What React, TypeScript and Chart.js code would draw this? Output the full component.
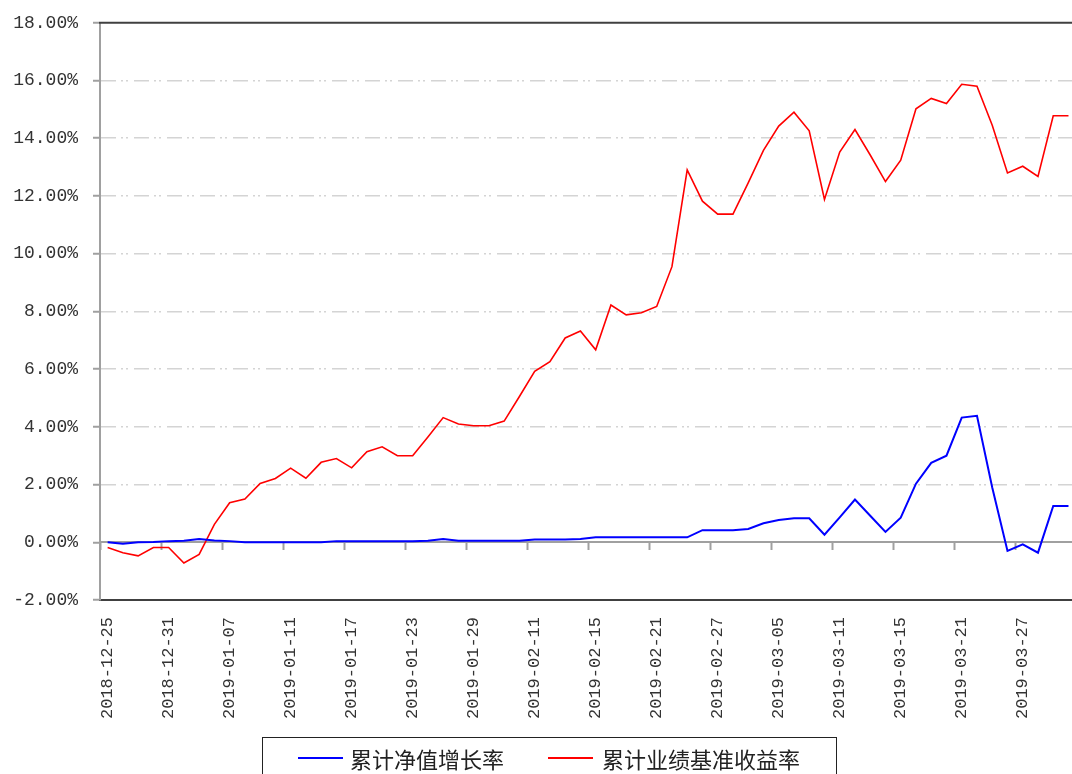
import React, { useEffect, useRef } from "react";
import { Chart, registerables } from "chart.js";

Chart.register(...registerables);

const dates = [
  "2018-12-25", "2018-12-26", "2018-12-27", "2018-12-28", "2018-12-31",
  "2019-01-02", "2019-01-03", "2019-01-04", "2019-01-07", "2019-01-08",
  "2019-01-09", "2019-01-10", "2019-01-11", "2019-01-14", "2019-01-15",
  "2019-01-16", "2019-01-17", "2019-01-18", "2019-01-21", "2019-01-22",
  "2019-01-23", "2019-01-24", "2019-01-25", "2019-01-28", "2019-01-29",
  "2019-01-30", "2019-01-31", "2019-02-01", "2019-02-11", "2019-02-12",
  "2019-02-13", "2019-02-14", "2019-02-15", "2019-02-18", "2019-02-19",
  "2019-02-20", "2019-02-21", "2019-02-22", "2019-02-25", "2019-02-26",
  "2019-02-27", "2019-02-28", "2019-03-01", "2019-03-04", "2019-03-05",
  "2019-03-06", "2019-03-07", "2019-03-08", "2019-03-11", "2019-03-12",
  "2019-03-13", "2019-03-14", "2019-03-15", "2019-03-18", "2019-03-19",
  "2019-03-20", "2019-03-21", "2019-03-22", "2019-03-25", "2019-03-26",
  "2019-03-27", "2019-03-28", "2019-03-29", "2019-03-31",
];

// 累计净值增长率 (%)
const navGrowth = [
  0, -0.05, 0, 0.01, 0.04, 0.05, 0.11, 0.06, 0.04, 0,
  0, 0, 0, 0, 0, 0.04, 0.04, 0.04, 0.04, 0.04,
  0.04, 0.05, 0.11, 0.05, 0.05, 0.05, 0.05, 0.05, 0.1, 0.1,
  0.1, 0.11, 0.17, 0.17, 0.17, 0.17, 0.17, 0.17, 0.17, 0.42,
  0.42, 0.42, 0.46, 0.66, 0.77, 0.83, 0.83, 0.26, 0.86, 1.48,
  0.92, 0.36, 0.85, 2.03, 2.75, 3.0, 4.32, 4.38, 1.9, -0.3,
  -0.07, -0.36, 1.26, 1.26,
];

// 累计业绩基准收益率 (%)
const benchmark = [
  -0.18, -0.36, -0.47, -0.18, -0.18, -0.72, -0.42, 0.62, 1.37, 1.5,
  2.04, 2.21, 2.57, 2.22, 2.77, 2.9, 2.58, 3.14, 3.31, 3.0,
  3.0, 3.65, 4.32, 4.1, 4.04, 4.04, 4.2, 5.05, 5.92, 6.26,
  7.08, 7.32, 6.67, 8.22, 7.88, 7.95, 8.17, 9.55, 12.9, 11.82,
  11.37, 11.37, 12.45, 13.58, 14.42, 14.9, 14.26, 11.88, 13.52, 14.3,
  13.42, 12.5, 13.24, 15.02, 15.38, 15.2, 15.87, 15.8, 14.45, 12.8,
  13.03, 12.68, 14.78, 14.78,
];

const seriesNames = ["累计净值增长率", "累计业绩基准收益率"];
const seriesColors = ["#0000ff", "#ff0000"];
const yMin = -2;
const yMax = 18;
const yStep = 2;

const framePlugin = {
  id: "frameTop",
  afterDraw(chart: any) {
    const { ctx, chartArea } = chart;
    ctx.save();
    ctx.strokeStyle = "#404040";
    ctx.lineWidth = 2;
    ctx.beginPath();
    ctx.moveTo(chartArea.left - 1, chartArea.top);
    ctx.lineTo(chartArea.right, chartArea.top);
    ctx.stroke();
    ctx.restore();
  },
};

export default function App() {
  const canvasRef = useRef<HTMLCanvasElement | null>(null);

  useEffect(() => {
    if (!canvasRef.current) return;
    const chart = new Chart(canvasRef.current, {
      type: "line",
      data: {
        labels: dates,
        datasets: [
          {
            label: seriesNames[0],
            data: navGrowth,
            borderColor: seriesColors[0],
            backgroundColor: seriesColors[0],
            borderWidth: 2,
            pointRadius: 0,
            tension: 0,
            fill: false,
          },
          {
            label: seriesNames[1],
            data: benchmark,
            borderColor: seriesColors[1],
            backgroundColor: seriesColors[1],
            borderWidth: 1.6,
            pointRadius: 0,
            tension: 0,
            fill: false,
          },
        ],
      },
      options: {
        animation: false,
        responsive: false,
        maintainAspectRatio: false,
        layout: { padding: { top: 19, right: 14, left: 0, bottom: 0 } },
        plugins: {
          legend: { display: false },
          tooltip: { enabled: false },
        },
        scales: {
          x: {
            type: "category",
            offset: true,
            grid: { display: false },
            border: { display: true, color: "#404040", width: 2 },
            ticks: {
              autoSkip: false,
              maxRotation: 90,
              minRotation: 90,
              padding: 9,
              color: "#333333",
              font: { family: "Liberation Mono", size: 17 },
              callback: (_v: any, i: number) => (i % 4 === 0 ? dates[i] : ""),
            },
            afterFit: (s: any) => {
              s.height = 174;
            },
          },
          x2: {
            type: "category",
            labels: dates,
            position: { y: 0 },
            offset: true,
            grid: {
              offset: true,
              drawOnChartArea: false,
              drawTicks: true,
              tickLength: 7,
              tickWidth: 2,
              tickColor: (c: any) => (c.index % 4 === 0 ? "#a0a0a0" : "rgba(0,0,0,0)"),
            },
            border: { display: true, color: "#a0a0a0", width: 2 },
            ticks: { display: false },
          },
          y: {
            min: yMin,
            max: yMax,
            ticks: {
              stepSize: yStep,
              padding: 15,
              color: "#333333",
              font: { family: "Liberation Mono", size: 18 },
              callback: (v: any) => Number(v).toFixed(2) + "%",
            },
            grid: {
              color: (c: any) => {
                const v = c.tick ? c.tick.value : null;
                return v === yMax || v === 0 || v === yMin ? "rgba(0,0,0,0)" : "#d4d4d4";
              },
              lineWidth: 1.5,
              tickLength: 7,
              tickColor: "#a0a0a0",
              tickWidth: 2,
            },
            border: { display: true, color: "#a0a0a0", width: 2, dash: [15, 5, 2, 3, 2, 6] },
            afterFit: (s: any) => {
              s.width = 100;
            },
          },
        },
      },
      plugins: [framePlugin],
    } as any);
    return () => chart.destroy();
  }, []);

  const legendFont = "'Noto Sans CJK SC', 'Noto Sans', sans-serif";

  return (
    <div
      style={{
        position: "fixed",
        left: 0,
        top: 0,
        width: 1072,
        height: 774,
        overflow: "hidden",
        background: "#ffffff",
      }}
    >
      <canvas
        ref={canvasRef}
        width={1098}
        height={777}
        style={{ position: "absolute", left: 0, top: -3, width: 1098, height: 777 }}
      />
      <div
        style={{
          position: "absolute",
          left: 262,
          top: 737,
          width: 575,
          height: 60,
          border: "1px solid #222",
          boxSizing: "border-box",
        }}
      />
      <div style={{ position: "absolute", left: 298, top: 757, width: 45, height: 2, background: seriesColors[0] }} />
      <div
        style={{
          position: "absolute",
          left: 350,
          top: 746,
          fontFamily: legendFont,
          fontSize: 22,
          lineHeight: "24px",
          color: "#222",
          whiteSpace: "nowrap",
        }}
      >
        {seriesNames[0]}
      </div>
      <div style={{ position: "absolute", left: 548, top: 757, width: 45, height: 2, background: seriesColors[1] }} />
      <div
        style={{
          position: "absolute",
          left: 602,
          top: 746,
          fontFamily: legendFont,
          fontSize: 22,
          lineHeight: "24px",
          color: "#222",
          whiteSpace: "nowrap",
        }}
      >
        {seriesNames[1]}
      </div>
    </div>
  );
}
